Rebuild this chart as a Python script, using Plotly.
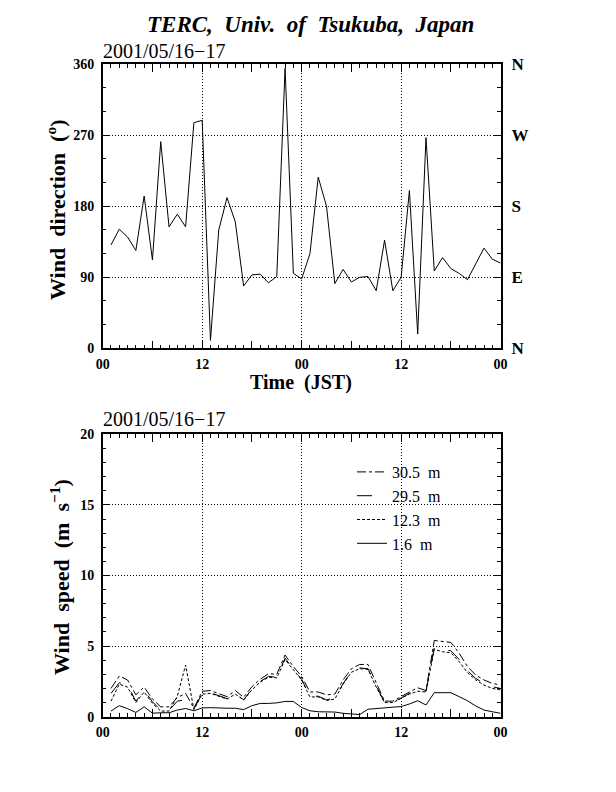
import plotly.graph_objects as go

# ---------------- data ----------------
hours = list(range(1, 49))  # hours since 00 JST 2001/05/16

wind_dir = [131, 151, 141, 124, 193, 112, 262, 154, 170, 154, 286, 289,
            10, 150, 191, 160, 79, 93, 94, 83, 91, 355, 95, 88,
            120, 217, 180, 82, 100, 84, 90, 91, 73, 137, 73, 90,
            200, 18, 267, 98, 115, 101, 95, 87, 107, 127, 113, 108]

ws_305 = [2.0, 2.88, 2.6, 1.55, 2.1, 1.25, 0.7, 0.7, 1.35, 1.65, 0.6, 1.8,
          1.85, 1.65, 1.42, 1.85, 1.38, 2.12, 2.65, 3.05, 3.0, 4.37, 3.55, 2.85,
          1.75, 1.75, 1.55, 1.6, 2.6, 3.4, 3.7, 3.7, 2.35, 1.1, 1.1, 1.45,
          1.75, 2.05, 1.85, 5.4, 5.33, 5.26, 4.5, 3.55, 2.95, 2.6, 2.36, 2.24]
ws_295 = [1.65, 2.4, 2.24, 1.1, 1.85, 1.06, 0.45, 0.45, 1.1, 1.2, 0.55, 1.65,
          1.7, 1.5, 1.28, 1.65, 1.2, 1.95, 2.5, 2.85, 2.8, 4.15, 3.35, 2.65,
          1.45, 1.45, 1.2, 1.3, 2.35, 3.2, 3.45, 3.4, 2.15, 1.0, 1.0, 1.35,
          1.65, 1.9, 1.8, 4.9, 4.72, 4.67, 4.06, 3.26, 2.71, 2.36, 2.12, 2.0]
ws_123 = [1.1, 2.3, 2.1, 1.0, 1.75, 0.95, 0.4, 0.4, 1.45, 3.66, 0.5, 1.6,
          1.65, 1.45, 1.25, 1.6, 1.18, 1.9, 2.45, 2.8, 2.75, 4.05, 3.3, 2.6,
          1.4, 1.4, 1.15, 1.25, 2.3, 3.15, 3.4, 3.35, 2.1, 1.0, 1.0, 1.3,
          1.6, 1.8, 1.75, 4.77, 4.6, 4.53, 3.9, 3.12, 2.6, 2.24, 2.0, 1.9]
ws_016 = [0.4, 0.78, 0.57, 0.3, 0.7, 0.25, 0.28, 0.28, 0.47, 0.58, 0.42, 0.62,
          0.64, 0.6, 0.6, 0.6, 0.5, 0.78, 0.94, 0.94, 0.98, 1.08, 1.08, 0.65,
          0.42, 0.35, 0.33, 0.33, 0.24, 0.2, 0.15, 0.53, 0.58, 0.58, 0.64, 0.72,
          0.9, 1.13, 0.83, 1.7, 1.7, 1.7, 1.42, 1.13, 0.76, 0.47, 0.35, 0.24]

x_tickvals = [0, 12, 24, 36, 48]
x_ticktext = ["00", "12", "00", "12", "00"]
x_midvals = [6, 18, 30, 42]
dir_tickvals = [0, 90, 180, 270, 360]
dir_compass = ["N", "E", "S", "W", "N"]
ws_tickvals = [0, 5, 10, 15, 20]
series = [("30.5  m", ws_305, "dashdot"),
          ("29.5  m", ws_295, "longdash"),
          ("12.3  m", ws_123, "3px,2px"),
          ("1.6  m", ws_016, "solid")]

# ---------------- figure ----------------
SERIF = "Liberation Serif"
W, H = 616, 792
OFF = 8  # page body margin of the html page


def px(x):
    return (x - OFF) / W


def py(y):
    return 1 - (y - OFF) / H


xdom = [px(102.7), px(500.6)]
ydom_top = [py(348.3), py(64.3)]
ydom_bot = [py(716.7), py(434.3)]
GRIDDASH = "1px,2px"

fig = go.Figure()
fig.add_trace(go.Scatter(x=hours, y=wind_dir, mode="lines",
                         line=dict(color="black", width=1),
                         xaxis="x", yaxis="y", showlegend=False))
for name, vals, dash in series:
    fig.add_trace(go.Scatter(x=hours, y=vals, mode="lines", name=name,
                             line=dict(color="black", width=1, dash=dash),
                             xaxis="x2", yaxis="y3"))
# transparent copies so that the overlay axes (6-h ticks / compass labels) get drawn
fig.add_trace(go.Scatter(x=hours, y=wind_dir, mode="lines", opacity=0,
                         line=dict(width=0), hoverinfo="skip",
                         xaxis="x3", yaxis="y2", showlegend=False))
fig.add_trace(go.Scatter(x=hours, y=ws_016, mode="lines", opacity=0,
                         line=dict(width=0), hoverinfo="skip",
                         xaxis="x4", yaxis="y3", showlegend=False))

tickfont = dict(family=SERIF, size=14, color="black", weight="bold")


def xmain(anchor):
    return dict(domain=xdom, anchor=anchor, range=[0, 48], automargin=False,
                tickmode="array", tickvals=x_tickvals, ticktext=x_ticktext,
                ticks="inside", ticklen=8, tickwidth=1, tickcolor="black",
                minor=dict(dtick=1, tick0=0, ticks="inside", ticklen=4,
                           tickwidth=1, tickcolor="black", showgrid=False),
                showline=True, linecolor="black", linewidth=1.5, mirror="ticks",
                showgrid=True, gridcolor="black", gridwidth=1, griddash=GRIDDASH,
                zeroline=False, tickfont=tickfont, ticklabelstandoff=2)


def xmid(overlay, anchor):
    return dict(domain=xdom, anchor=anchor, overlaying=overlay, range=[0, 48],
                automargin=False,
                tickmode="array", tickvals=x_midvals, showticklabels=False,
                ticks="inside", ticklen=8, tickwidth=1, tickcolor="black",
                showline=True, linecolor="black", linewidth=1.5, mirror="ticks",
                zeroline=False, showgrid=False)


def ymain(anchor, dom, rng, vals, minor_dt):
    return dict(domain=dom, anchor=anchor, range=rng, automargin=False,
                tickmode="array", tickvals=vals,
                ticks="inside", ticklen=8, tickwidth=1, tickcolor="black",
                minor=dict(dtick=minor_dt, tick0=0, ticks="inside", ticklen=4,
                           tickwidth=1, tickcolor="black", showgrid=False),
                showline=True, linecolor="black", linewidth=1.5, mirror="ticks",
                showgrid=True, gridcolor="black", gridwidth=1, griddash=GRIDDASH,
                zeroline=False, tickfont=tickfont, ticklabelstandoff=4)


fig.update_layout(
    width=W, height=H, autosize=False,
    margin=dict(l=0, r=0, t=0, b=0, pad=0),
    paper_bgcolor="white", plot_bgcolor="white",
    xaxis=xmain("y"),
    xaxis3=xmid("x", "y"),
    yaxis=ymain("x", ydom_top, [0, 360], dir_tickvals, 30),
    yaxis2=dict(domain=ydom_top, anchor="x3", overlaying="y", side="right",
                range=[0, 360], automargin=False,
                tickmode="array", tickvals=dir_tickvals,
                ticktext=dir_compass, ticks="", showline=False, showgrid=False,
                zeroline=False, ticklabelstandoff=10,
                tickfont=dict(family=SERIF, size=17, color="black", weight="bold")),
    xaxis2=xmain("y3"),
    xaxis4=xmid("x2", "y3"),
    yaxis3=ymain("x2", ydom_bot, [0, 20], ws_tickvals, 1),
    showlegend=True,
    legend=dict(x=px(352), y=py(455), xanchor="left", yanchor="top",
                bgcolor="rgba(0,0,0,0)", borderwidth=0,
                font=dict(family=SERIF, size=16, color="black"),
                tracegroupgap=0),
)

annots = [
    dict(text="TERC,  Univ.  of  Tsukuba,  Japan", x=px(310), y=py(25),
         font=dict(family=SERIF, size=23, color="black", weight="bold", style="italic")),
    dict(text="2001/05/16\u221217", x=px(101), y=py(51), xanchor="left",
         font=dict(family=SERIF, size=20, color="black")),
    dict(text="2001/05/16\u221217", x=px(101), y=py(419), xanchor="left",
         font=dict(family=SERIF, size=20, color="black")),
    dict(text="Time  (JST)", x=px(301), y=py(382),
         font=dict(family=SERIF, size=20, color="black", weight="bold")),
    dict(text="Wind  direction  (<sup>o</sup>)", x=px(56), y=py(210),
         textangle=-90,
         font=dict(family=SERIF, size=22, color="black", weight="bold")),
    dict(text="Wind  speed  (m  s<sup>\u22121</sup>)", x=px(60), y=py(577),
         textangle=-90,
         font=dict(family=SERIF, size=22, color="black", weight="bold")),
]
for a in annots:
    a.update(xref="paper", yref="paper", showarrow=False)
    a.setdefault("xanchor", "center")
    a.setdefault("yanchor", "middle")
fig.update_layout(annotations=annots)

fig.write_html("out.html")
